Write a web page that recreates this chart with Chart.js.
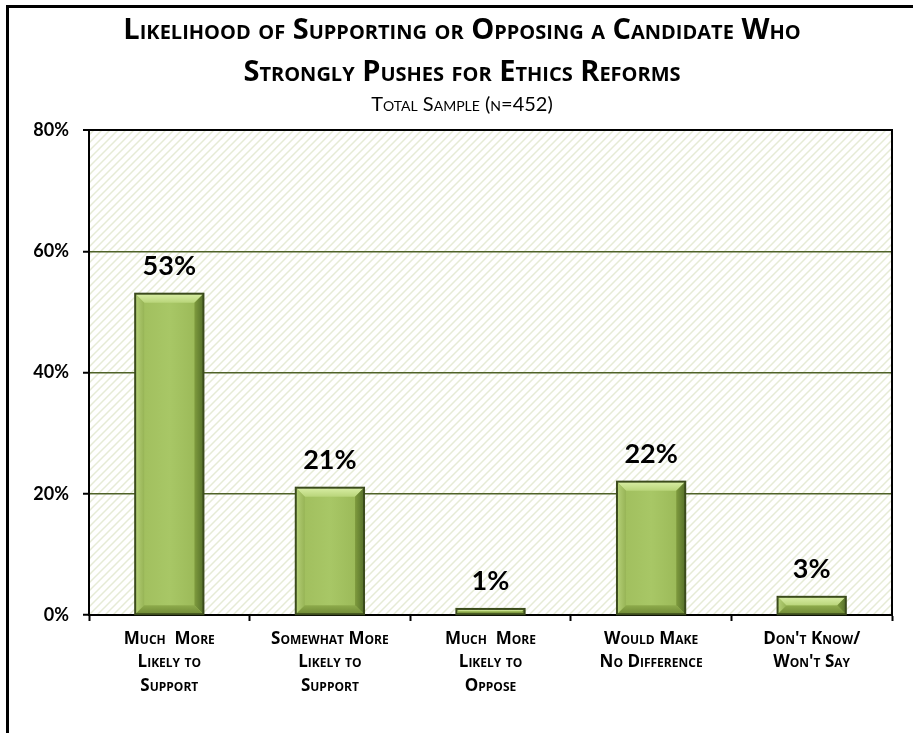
<!DOCTYPE html>
<html>
<head>
<meta charset="utf-8">
<script src="https://cdn.jsdelivr.net/npm/chart.js@4"></script>
<style>
  html, body { margin: 0; padding: 0; background: #fff; }
  canvas { display: block; }
</style>
</head>
<body>
<canvas id="chart" width="913" height="733"></canvas>
<script>
// Survey categories (multi-line axis labels)
const categories = [
  ['Much  More', 'Likely to', 'Support'],
  ['Somewhat More', 'Likely to', 'Support'],
  ['Much  More', 'Likely to', 'Oppose'],
  ['Would Make', 'No Difference'],
  ["Don't Know/", "Won't Say"]
];
// Share of respondents, percent
const shares = [53, 21, 1, 22, 3];
// Value axis tick positions, percent
const yTicks = [0, 20, 40, 60, 80];
const titleLines = [
  'Likelihood of Supporting or Opposing a Candidate Who',
  'Strongly Pushes for Ethics Reforms'
];
const subtitleText = 'Total Sample (n=452)';

const FAMILY = 'Lato, "Open Sans", sans-serif';
const WIDE = '"Open Sans", Lato, sans-serif';
const OLIVE = '#4f6228';

// Diagonal hatch used behind the plot
function makeHatch() {
  const c = document.createElement('canvas');
  c.width = 8; c.height = 8;
  const g = c.getContext('2d');
  g.strokeStyle = '#e6ebd6';
  g.lineWidth = 1.5;
  g.beginPath();
  g.moveTo(-1, 9); g.lineTo(9, -1);
  g.moveTo(-1, 1); g.lineTo(1, -1);
  g.moveTo(7, 9); g.lineTo(9, 7);
  g.stroke();
  return g.createPattern(c, 'repeat');
}

const framePlugin = {
  id: 'frame',
  beforeDraw(chart) {
    const { ctx, chartArea: a } = chart;
    ctx.save();
    ctx.fillStyle = '#fff';
    ctx.fillRect(0, 0, chart.width, chart.height);
    ctx.fillStyle = makeHatch();
    ctx.fillRect(a.left, a.top, a.right - a.left, a.bottom - a.top);
    ctx.strokeStyle = '#000';
    ctx.lineWidth = 3;
    ctx.beginPath();
    ctx.moveTo(6, 6.5); ctx.lineTo(chart.width, 6.5);
    ctx.moveTo(7.5, 5); ctx.lineTo(7.5, chart.height);
    ctx.stroke();
    ctx.restore();
  },
  afterDraw(chart) {
    const { ctx, chartArea: a } = chart;
    ctx.save();
    ctx.strokeStyle = '#000';
    ctx.lineWidth = 2;
    ctx.beginPath();
    ctx.moveTo(a.left, a.top); ctx.lineTo(a.right, a.top); ctx.lineTo(a.right, a.bottom);
    ctx.stroke();
    ctx.restore();
  }
};

// Bevelled bar faces and value labels
const bevelPlugin = {
  id: 'bevel',
  afterDatasetsDraw(chart) {
    const { ctx } = chart;
    const meta = chart.getDatasetMeta(0);
    ctx.save();
    meta.data.forEach((bar, i) => {
      const x0 = bar.x - bar.width / 2, x1 = bar.x + bar.width / 2;
      const y0 = bar.y, y1 = bar.base;
      const h = y1 - y0;
      const b = Math.min(9, h / 2);
      const face = ctx.createLinearGradient(x0, 0, x1, 0);
      face.addColorStop(0, '#9fbd5c');
      face.addColorStop(0.5, '#a8c766');
      face.addColorStop(1, '#98b655');
      ctx.fillStyle = face;
      ctx.fillRect(x0, y0, x1 - x0, h);
      const poly = (pts, fill) => {
        ctx.beginPath();
        ctx.moveTo(pts[0][0], pts[0][1]);
        for (let k = 1; k < pts.length; k++) ctx.lineTo(pts[k][0], pts[k][1]);
        ctx.closePath();
        ctx.fillStyle = fill;
        ctx.fill();
      };
      const top = ctx.createLinearGradient(0, y0, 0, y0 + b);
      top.addColorStop(0, '#d9eea5');
      top.addColorStop(1, '#b9d57a');
      poly([[x0, y0], [x1, y0], [x1 - b, y0 + b], [x0 + b, y0 + b]], top);
      const left = ctx.createLinearGradient(x0, 0, x0 + b, 0);
      left.addColorStop(0, '#b6d178');
      left.addColorStop(1, '#97b456');
      poly([[x0, y0], [x0 + b, y0 + b], [x0 + b, y1 - b], [x0, y1]], left);
      const right = ctx.createLinearGradient(x1 - b, 0, x1, 0);
      right.addColorStop(0, '#7f9b3e');
      right.addColorStop(1, '#55702a');
      poly([[x1, y0], [x1, y1], [x1 - b, y1 - b], [x1 - b, y0 + b]], right);
      const bottom = ctx.createLinearGradient(0, y1 - b, 0, y1);
      bottom.addColorStop(0, '#8eab4c');
      bottom.addColorStop(1, '#6f8a35');
      poly([[x0, y1], [x0 + b, y1 - b], [x1 - b, y1 - b], [x1, y1]], bottom);
      ctx.strokeStyle = '#3b4b1c';
      ctx.lineWidth = 2;
      ctx.strokeRect(x0, y0, x1 - x0, h);

      ctx.fillStyle = '#000';
      ctx.font = 'bold 27px ' + FAMILY;
      ctx.textAlign = 'center';
      ctx.textBaseline = 'alphabetic';
      ctx.fillText(shares[i] + '%', bar.x, y0 - 19);
    });
    ctx.restore();
  }
};

new Chart(document.getElementById('chart'), {
  type: 'bar',
  data: {
    labels: categories,
    datasets: [{
      data: shares,
      backgroundColor: '#a4c263',
      borderWidth: 0,
      categoryPercentage: 1,
      barPercentage: 0.425
    }]
  },
  options: {
    responsive: false,
    animation: false,
    layout: { padding: { top: 0, left: 32, right: 21, bottom: 0 } },
    plugins: {
      legend: { display: false },
      tooltip: { enabled: false },
      title: {
        display: true,
        text: titleLines,
        color: '#000',
        font: { family: WIDE, size: 29, weight: 'small-caps bold', lineHeight: 42 / 29 },
        padding: { top: 10, bottom: 0 }
      },
      subtitle: {
        display: true,
        text: subtitleText,
        color: '#000',
        font: { family: FAMILY, size: 20, weight: 'small-caps normal', lineHeight: 1.1 },
        padding: { top: 0, bottom: 14 }
      }
    },
    scales: {
      x: {
        grid: { drawOnChartArea: false, drawTicks: true, tickLength: 6, tickColor: '#000', tickWidth: 2 },
        border: { display: true, color: '#000', width: 2 },
        ticks: {
          color: '#000',
          padding: 6,
          maxRotation: 0,
          autoSkip: false,
          font: { family: WIDE, size: 17, weight: 'small-caps bold', lineHeight: 23.5 / 17 }
        },
        afterFit(scale) { scale.height = 118; }
      },
      y: {
        min: yTicks[0],
        max: yTicks[yTicks.length - 1],
        afterBuildTicks(scale) { scale.ticks = yTicks.map(v => ({ value: v })); },
        grid: {
          color: ctx => (ctx.tick && ctx.tick.value === 80) ? '#000' : OLIVE,
          lineWidth: ctx => (ctx.tick && ctx.tick.value === 80) ? 2 : 1.5,
          tickColor: '#000',
          tickLength: 6,
          tickWidth: 2
        },
        border: { display: true, color: '#000', width: 2 },
        ticks: {
          color: '#000',
          padding: 14,
          font: { family: FAMILY, size: 18, weight: 'bold' },
          callback: v => v + '%'
        },
        afterFit(scale) { scale.width = 57; }
      }
    }
  },
  plugins: [framePlugin, bevelPlugin]
});
</script>
</body>
</html>
